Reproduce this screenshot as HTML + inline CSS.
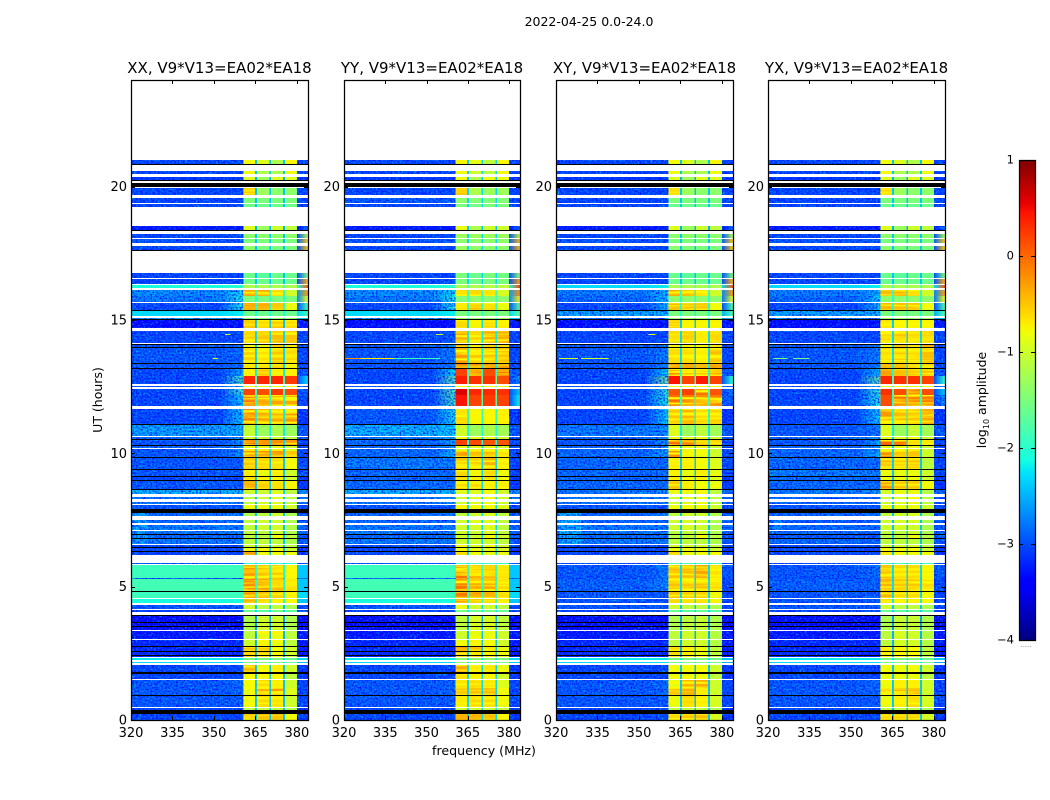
<!DOCTYPE html>
<html lang="en">
<head>
<meta charset="utf-8">
<title>2022-04-25 0.0-24.0 amplitude waterfall</title>
<style>
html,body{margin:0;padding:0;background:#fff;width:1050px;height:800px;overflow:hidden}
svg{display:block}
text{font-family:"DejaVu Sans","Liberation Sans",sans-serif;fill:#000}
</style>
</head>
<body>
<svg id="figure" width="1050" height="800" viewBox="0 0 1050 800" xmlns="http://www.w3.org/2000/svg">
<defs id="defs">
<filter id="grain-light" x="0" y="0" width="100%" height="100%" filterUnits="objectBoundingBox">
<feTurbulence type="fractalNoise" baseFrequency="0.55" numOctaves="2" seed="7"/>
<feColorMatrix type="matrix" values="0 0 0 0 0  0 0 0 0 0.68  0 0 0 0 1  2 0 0 0 -0.95"/>
</filter>
<filter id="grain-dark" x="0" y="0" width="100%" height="100%" filterUnits="objectBoundingBox">
<feTurbulence type="fractalNoise" baseFrequency="0.55" numOctaves="2" seed="23"/>
<feColorMatrix type="matrix" values="0 0 0 0 0  0 0 0 0 0  0 0 0 0 1  2.4 0 0 0 -1"/>
</filter>
<filter id="band-stripes" x="0" y="0" width="100%" height="100%" filterUnits="objectBoundingBox">
<feTurbulence type="fractalNoise" baseFrequency="0.012 0.38" numOctaves="2" seed="11"/>
<feColorMatrix type="matrix" values="0 0 0 0 1  0 0 0 0 0.95  0 0 0 0 0  3.4 0 0 0 -1.35"/>
</filter>
</defs>
<text x="589" y="26" font-size="12.5" text-anchor="middle">2022-04-25 0.0-24.0</text>
<text x="484" y="755" font-size="12.6" text-anchor="middle">frequency (MHz)</text>
<text transform="translate(102,400) rotate(-90)" font-size="12.5" text-anchor="middle">UT (hours)</text>
<text transform="translate(986,400) rotate(-90)" font-size="12.5" text-anchor="middle">log<tspan font-size="8" dy="3">10</tspan><tspan dy="-3"> amplitude</tspan></text>
<text x="1026" y="647" font-size="6" text-anchor="middle" style="fill:#666">......</text>
<g id="panels"></g>
<g id="colorbar"></g>
</svg>
<script>
// ---- data: frequency channels, scan ranges, per-polarisation log10 amplitude ----
const polarisations = ['XX', 'YY', 'XY', 'YX'];
const baselineLabel = ', V9*V13=EA02*EA18';
const xTickValues = [320, 335, 350, 365, 380];
const yTickValues = [0, 5, 10, 15, 20];
const colorbarTicks = [1, 0, -1, -2, -3, -4];
const channelEdges = [320, 352, 360.6, 364.8, 365.5, 370, 370.6, 375, 375.7, 380, 384];
// index of the level (bg,tr,b1,b2,b3,b4,gap,edge) used by each channel range
const channelLevel = [0, 1, 2, 6, 3, 6, 4, 6, 5, 7];
// scan index ranges: 640 scans span 24 hours
const scanBins = [
[0,6],[10,12],[13,24],[25,32],[32,40],[41,46],[48,55],[57,58.5],[60,62],[63.5,73],
[74,80],[81,89],[90,104],[108,110.5],[111.5,115.5],[117,121],[122,128.5],[129.5,141.5],[141.5,142.5],[142.5,155],
[156,157.5],[165,168],[169,172],[173,175],[176,181],[182.5,185.5],[186.5,189.5],[190.5,195.5],[197.5,200.5],[204,207.5],
[211,215],[216.5,218.5],[221,223],[226,230],[231,239],[240,243],[244,250],[251,262],[263,269],[269,271],
[272,274],[275,280],[281,283.5],[284.5,295],[296,311],[314,325],[325,331],[333,334.5],[336.5,344],[344,351],
[352,356],[357,372],[373,375.5],[377,389],[392,400],[401.5,402.5],[404.5,409],[410,417],[418.5,424],[424,430.5],
[432.5,435],[436,441.5],[442.5,447.5],[470.5,474.5],[477,481.5],[482.5,486.5],[490.5,494.5],[513,516],[517.5,522.5],[525,532],
[540,543.5],[546.5,549],[556.5,560.5]
];
const flaggedBins = [
[6,10],[24,25],[46,48],[64.5,65.5],[68,69],[73,74],[93,94],[97,98],[104,105],[128.5,129.5],
[168,169],[172,173],[181.5,182.5],[185.5,186.5],[207.5,211],[230,231],[239,240],[243,244],[250,251],[262,263],
[274,275],[280,281],[295,296],[351,352],[356,357],[372,373],[375.5,376.5],[400.5,401.5],[409,410],[469.5,470.5],
[489.5,490.5],[533,537.5],[539.5,540.5],[555.5,556.5]
];
// each row: bg, tr, b1, b2, b3, b4, gap, edge
const levelsXX = [
[-3,-3,-.5,-.45,-.45,-.8,-2.4,-3.1],[-3,-3,-1.1,-1.1,-1.1,-1.2,-2.4,-3.1],[-2.9,-2.9,-.85,-.6,-.65,-1,-2.4,-3],[-2.9,-2.8,-.85,-.35,-.2,-.9,-2.4,-3],[-2.9,-2.8,-.8,-.6,-.7,-1,-2.4,-3],[-3,-3,-.8,-.8,-.8,-1.1,-2.4,-3.1],[-3,-3,-.4,-.8,-.7,-1,-2.4,-3.1],[-2.3,-2.3,-1.5,-1.5,-1.5,-1.6,-2.2,-2.4],[-2.2,-2.2,-1.5,-1.5,-1.5,-1.6,-2.2,-2.3],[-3.2,-3.2,-.45,-.5,-.8,-1,-2.5,-3.3],
[-3.2,-3.2,-1,-.75,-.85,-1.1,-2.5,-3.3],[-3.3,-3.3,-1.1,-.85,-.85,-1.1,-2.5,-3.3],[-3.5,-3.5,-1.2,-1,-1,-1.2,-2.6,-3.5],[-3,-2.9,-1.6,-1.7,-1.6,-1.7,-2.3,-3],[-2.9,-2.9,-1,-1.1,-1.1,-1.2,-2.4,-3],[-2.1,-2.1,-.4,-.5,-.6,-.8,-2.1,-2.4],[-1.9,-1.9,-.25,-.4,-.45,-.7,-2.1,-2.3],[-1.85,-1.85,-.15,-.3,-.45,-.65,-2.1,-2.4],[-2.8,-2.8,-.4,-.5,-.5,-.8,-2.4,-2.8],[-1.9,-1.9,-.25,-.45,-.45,-.75,-2.1,-2.4],
[-2.9,-2.9,-2,-2,-2,-2,-2.4,-3],[-3,-3,-.3,-.8,-.8,-.8,-2.4,-3.1],[-3,-3,-.85,-.85,-.85,-1,-2.4,-3.1],[-3,-3,-1,-1,-1,-1.1,-2.4,-3],[-2.7,-2.7,-1.1,-1.1,-1.1,-1.2,-2.4,-2.9],[-2.8,-2.8,-1.1,-1.1,-.85,-1.1,-2.4,-2.9],[-2.7,-2.7,-1.1,-1.1,-1,-1.2,-2.4,-2.8],[-2.7,-2.7,-1.1,-1,-1,-1.2,-2.4,-2.8],[-2.8,-2.8,-1.1,-1,-1,-1.2,-2.4,-2.9],[-2.8,-2.7,-1.2,-1.1,-1,-1.2,-2.4,-2.9],
[-2.9,-2.9,-.85,-.85,-.85,-1,-2.4,-3],[-2.7,-2.6,-1.1,-1,-.9,-1.1,-2.4,-2.8],[-2.7,-2.6,-1.1,-1,-.9,-1.1,-2.4,-2.8],[-2.4,-2.4,-1,-1,-.9,-1.1,-2.3,-2.6],[-2.9,-2.9,-.3,-.55,-.65,-.75,-2.4,-3.1],[-3,-3,-.55,-.7,-.75,-1,-2.4,-3.1],[-2.9,-2.9,-.7,-.85,-.7,-1,-2.4,-3],[-2.9,-2.9,-.5,-.55,-.55,-.85,-2.4,-3],[-2.9,-2.6,-.2,-.2,-.25,-.5,-2.3,-3],[-2.9,-2.6,-.7,-.7,-.7,-.9,-2.3,-3],
[-2.8,-2.6,-.85,-.85,-.85,-1,-2.3,-3],[-2.9,-2.6,0,-.2,-.2,-.25,-2.3,-3],[-2.8,-2.6,-1,-1,-1,-1.1,-2.3,-2.9],[-2.5,-2.4,-1.05,-1.3,-1.2,-1.3,-2.2,-2.9],[-3,-2.3,-.15,-.3,-.35,-.25,-2.2,-3.1],[-3,-2.3,-.1,-.3,-.3,-.3,-2.1,-3],[-3,-1.9,.2,.15,.25,.15,-2,-2.9],[-2.9,-2.4,-.8,-.8,-.8,-.8,-2.2,-2.9],[-3,-1.8,.35,.35,.35,.25,-1.9,-2.3],[-3,-2.5,-.7,-.5,-.7,-.7,-2.2,-2.9],
[-2.9,-2.8,-.65,-.65,-.6,-.75,-2.3,-3],[-2.9,-2.8,-.55,-.65,-.5,-.6,-2.3,-3],[-2.9,-2.8,-.8,-.8,-.55,-.7,-2.3,-3],[-3,-3,-.55,-.5,-.45,-.5,-2.3,-3],[-3.4,-3.4,-.5,-.6,-.5,-.6,-2.4,-3.3],[-2.5,-2.5,-1.4,-1.4,-1.4,-1.4,-2.2,-2.4],[-2.3,-2.2,-1.6,-1.6,-1.6,-1.6,-2.1,-1.9],[-3,-2.1,-.3,-.35,-.5,-.85,-2.1,-1.9],[-2.7,-2.1,-1.5,-1.5,-1.5,-1.5,-2,-.8],[-2.6,-2.2,-.3,-.35,-.6,-1,-2,-.3],
[-2.1,-2,-1.2,-1.2,-1.2,-1.2,-1.8,.1],[-3,-3,-1.6,-1.6,-1.6,-1.6,-2.4,-.4],[-3,-3,-1.6,-1.7,-1.6,-1.6,-2.4,-1.5],[-3,-3,-1.4,-1.5,-1.5,-1.5,-2.4,-.5],[-2.9,-2.9,-1.5,-1.5,-1.5,-1.5,-2.4,-.5],[-3,-3,-1.4,-1.4,-1.4,-1.4,-2.4,-1.2],[-3.3,-3.3,-.9,-1.3,-1,-1.1,-2.5,-2.8],[-3,-3,-1.6,-1.6,-1.6,-1.6,-2.4,-3],[-3,-3,-1.5,-1.5,-1.5,-1.5,-2.4,-3],[-3,-3,-.5,-1.3,-1.4,-1.4,-2.4,-3],
[-3.1,-3.1,-.9,-1.3,-.9,-.9,-2.5,-3.1],[-3,-3,-.8,-1.2,-1.2,-.8,-2.4,-3],[-3,-3,-.8,-.9,-1.2,-.75,-2.4,-3]
];
const levelsYY = [
[-3,-3,-.4,-.4,-.45,-.75,-2.3,-3.1],[-3,-3,-1,-1,-1,-1.1,-2.3,-3.1],[-2.9,-2.9,-.7,-.6,-.6,-.85,-2.3,-3],[-2.9,-2.8,-.5,-.45,-.4,-.8,-2.3,-3],[-2.9,-2.8,-.65,-.6,-.65,-.9,-2.3,-3],[-3,-3,-.6,-.75,-.75,-1,-2.3,-3.1],[-3,-3,-.3,-.7,-.65,-.85,-2.3,-3.1],[-2.3,-2.3,-1.4,-1.4,-1.4,-1.5,-2.2,-2.4],[-2.2,-2.2,-1.4,-1.4,-1.4,-1.5,-2.2,-2.3],[-3.2,-3.2,-.3,-.45,-.7,-.85,-2.4,-3.3],
[-3.2,-3.2,-.85,-.75,-.8,-1,-2.4,-3.3],[-3.3,-3.3,-1,-.85,-.85,-1,-2.4,-3.3],[-3.5,-3.5,-1.1,-.95,-.95,-1.1,-2.5,-3.5],[-3,-2.9,-1.5,-1.6,-1.5,-1.6,-2.2,-3],[-2.9,-2.9,-.85,-1,-1,-1.1,-2.3,-3],[-2.1,-2.1,-.25,-.45,-.55,-.7,-2,-2.4],[-1.9,-1.9,-.1,-.35,-.4,-.6,-2,-2.3],[-1.85,-1.85,-.05,-.35,-.35,-.6,-2,-2.4],[-2.8,-2.8,-.25,-.45,-.45,-.7,-2.3,-2.8],[-1.9,-1.9,-.05,-.35,-.4,-.65,-2,-2.4],
[-2.9,-2.9,-1.9,-1.9,-1.9,-1.9,-2.3,-3],[-3,-3,-.6,-.8,-.85,-.85,-2.3,-3.1],[-3,-3,-.8,-.85,-.85,-.95,-2.3,-3.1],[-3,-3,-.85,-.95,-.85,-1,-2.3,-3],[-2.7,-2.7,-1,-1,-1,-1.1,-2.3,-2.9],[-2.8,-2.8,-1,-1,-.85,-1,-2.3,-2.9],[-2.7,-2.7,-1,-1,-.9,-1.1,-2.3,-2.8],[-2.7,-2.7,-1,-.95,-.9,-1.1,-2.3,-2.8],[-2.8,-2.8,-1,-.9,-.9,-1.1,-2.3,-2.9],[-2.8,-2.7,-1.1,-1,-.9,-1.1,-2.3,-2.9],
[-2.9,-2.9,-.75,-.8,-.8,-.9,-2.3,-3],[-2.7,-2.6,-1,-.9,-.8,-1,-2.3,-2.8],[-2.7,-2.6,-1,-.9,-.8,-1,-2.3,-2.8],[-2.4,-2.4,-.9,-.9,-.8,-1,-2.2,-2.6],[-2.8,-2.8,-.55,-.6,-.7,-.7,-2.3,-3.1],[-2.8,-2.8,-.6,-.7,-.6,-.85,-2.3,-3.1],[-2.8,-2.8,-.6,-.75,-.6,-.85,-2.3,-3],[-2.7,-2.7,-.5,-.55,-.4,-.7,-2.3,-3],[-2.8,-2.4,-.2,-.45,-.45,-.6,-2.2,-3],[-2.8,-2.5,-.85,-.75,-.7,-.85,-2.2,-3],
[-2.8,-2.5,-.85,-.85,-.85,-.95,-2.2,-3],[-2.8,-2.5,.2,.15,.1,.1,-2.1,-3],[-2.7,-2.5,-.85,-.85,-.85,-1,-2.2,-2.9],[-2.4,-2.3,-1,-1.3,-1.2,-1.25,-2.1,-2.9],[-2.9,-2.2,-.6,-.75,-.75,-.7,-2,-3.1],[-3,-1.8,.45,.2,.25,.2,-1.8,-2.2],[-3,-1.7,.6,.35,.35,.3,-1.7,-2.4],[-2.9,-2.2,-.8,-.8,-.8,-.8,-2,-2.8],[-3,-1.7,.4,.3,.3,.15,-1.7,-2.6],[-3,-2.2,.2,-.05,.15,-.1,-2,-2.9],
[-2.9,-2.7,-.15,-.25,-.15,-.25,-2.2,-3],[-2.9,-2.7,-.25,-.5,-.45,-.45,-2.2,-3],[-2.9,-2.7,-.35,-.7,-.5,-.6,-2.2,-3],[-3,-2.9,-.35,-.55,-.35,-.35,-2.2,-3],[-3.4,-3.4,-.6,-.75,-.6,-.7,-2.3,-3.3],[-2.5,-2.5,-1.3,-1.3,-1.3,-1.3,-2.1,-2.4],[-2.3,-2.2,-1.5,-1.5,-1.5,-1.5,-2,-1.7],[-3,-2.1,-.65,-.45,-.6,-.85,-2,-1.7],[-2.7,-2.1,-1.45,-1.4,-1.4,-1.4,-1.9,-.7],[-2.6,-2.2,-.65,-.6,-.65,-.95,-1.9,-.2],
[-2.1,-2,-1.2,-1.2,-1.15,-1.1,-1.8,.2],[-3,-2.9,-1.5,-1.55,-1.5,-1.5,-2.3,-.3],[-3,-3,-1.5,-1.6,-1.5,-1.55,-2.3,-1.4],[-3,-3,-1.3,-1.4,-1.4,-1.4,-2.3,-.4],[-2.9,-2.9,-1.4,-1.4,-1.4,-1.4,-2.3,-.4],[-3,-3,-1.3,-1.3,-1.3,-1.3,-2.3,-1.1],[-3.3,-3.3,-.85,-1.2,-1,-1,-2.4,-2.8],[-3,-3,-1.5,-1.55,-1.5,-1.5,-2.3,-3],[-2.9,-2.9,-1.4,-1.45,-1.45,-1.45,-2.3,-3],[-3,-3,-.5,-1.2,-1.3,-1.3,-2.3,-3],
[-3.1,-3.1,-.85,-1.2,-.85,-.85,-2.4,-3.1],[-3,-3,-.8,-1,-1.1,-.8,-2.3,-3],[-3,-3,-.75,-.85,-1.1,-.75,-2.3,-3]
];
const levelsXY = [
[-3,-3,-.6,-.5,-.45,-.95,-2.4,-3.1],[-3,-3,-1.1,-1.1,-1.1,-1.2,-2.4,-3.1],[-2.9,-2.9,-.85,-.6,-.7,-.95,-2.4,-3],[-2.9,-2.8,-.45,-.35,-.7,-1,-2.4,-3],[-2.9,-2.8,-.85,-.4,-.35,-1,-2.4,-3],[-3,-3,-.85,-.85,-.85,-1.1,-2.4,-3.1],[-3,-3,-.8,-.85,-.8,-1,-2.4,-3.1],[-2.3,-2.3,-1.5,-1.5,-1.5,-1.6,-2.2,-2.5],[-2.2,-2.2,-1.5,-1.5,-1.5,-1.6,-2.2,-2.4],[-3.2,-3.2,-.6,-.7,-.85,-1.1,-2.5,-3.3],
[-3.2,-3.2,-1.1,-1,-1,-1.15,-2.5,-3.3],[-3.3,-3.3,-1.1,-1,-1,-1.15,-2.5,-3.3],[-3.5,-3.5,-1.2,-1.1,-1.05,-1.2,-2.6,-3.5],[-3,-2.9,-1.6,-1.7,-1.6,-1.7,-2.3,-3],[-2.9,-2.9,-1,-1.1,-1.1,-1.2,-2.4,-3],[-2.9,-2.9,-.6,-.65,-.65,-.75,-2.2,-3],[-2.9,-2.9,-.45,-.55,-.55,-.8,-2.3,-3],[-2.85,-2.6,-.45,-.5,-.45,-.6,-2.3,-3],[-3,-2.9,-.6,-.7,-.6,-.8,-2.4,-3],[-2.9,-2.7,-.45,-.45,-.3,-.65,-2.3,-2.9],
[-3,-3,-1.8,-1.8,-1.8,-1.9,-2.4,-3],[-3,-3,-.5,-.85,-.85,-.85,-2.4,-3.1],[-3,-3,-.85,-.85,-.85,-1,-2.4,-3.1],[-3,-3,-1,-1,-1,-1.1,-2.4,-3],[-2.7,-2.7,-1.1,-1.1,-1.1,-1.2,-2.4,-2.9],[-2.8,-2.8,-1.1,-1.1,-.85,-1.1,-2.4,-2.9],[-2.7,-2.7,-1.1,-1.1,-1,-1.2,-2.4,-2.8],[-2.7,-2.7,-1,-.95,-1,-1.2,-2.4,-2.8],[-2.8,-2.8,-1,-.95,-1,-1.2,-2.4,-2.9],[-2.8,-2.7,-1.1,-1,-1,-1.2,-2.4,-2.9],
[-2.9,-2.9,-.85,-.85,-.85,-1,-2.4,-3],[-2.7,-2.7,-1,-.9,-.85,-1.1,-2.4,-2.8],[-2.7,-2.7,-1,-.9,-.85,-1.1,-2.4,-2.8],[-2.7,-2.6,-.85,-.85,-.85,-1.1,-2.3,-2.8],[-2.8,-2.8,-.5,-.7,-.8,-.85,-2.4,-3.1],[-2.8,-2.8,-.7,-.8,-.7,-.9,-2.4,-3.1],[-2.8,-2.8,-.7,-.85,-.7,-.85,-2.4,-3],[-2.8,-2.8,-.7,-.7,-.8,-.9,-2.4,-3],[-2.8,-2.5,-.2,-.75,-.85,-1,-2.3,-3],[-2.8,-2.6,-.7,-.85,-.85,-1,-2.3,-3],
[-2.8,-2.6,-.85,-.85,-.85,-1,-2.3,-3],[-2.9,-2.6,0,-.1,-.45,-.5,-2.2,-3],[-2.8,-2.6,-.85,-.9,-.85,-1,-2.3,-2.9],[-2.7,-2.6,-.9,-1.3,-1.1,-1.25,-2.2,-2.9],[-3,-2.3,-.5,-.4,-.6,-.55,-2.1,-3.1],[-3,-2.1,0,-.1,-.2,-.1,-2,-2.9],[-3,-2,.1,.2,-.05,.1,-1.9,-2.7],[-2.9,-2.4,-.8,-.8,-.8,-.8,-2.1,-2.8],[-3,-1.6,.45,.2,.4,.2,-1.9,-2],[-3,-2.3,-.1,-.3,-.3,-.2,-2.1,-2.9],
[-2.9,-2.7,-.3,-.35,-.45,-.3,-2.2,-3],[-2.9,-2.7,-.6,-.6,-.7,-.4,-2.3,-3],[-2.9,-2.7,-.75,-.85,-.75,-.55,-2.3,-3],[-3,-3,-.6,-.55,-.7,-.6,-2.3,-3],[-3.4,-3.4,-.55,-.75,-.75,-.75,-2.4,-3.3],[-2.7,-2.6,-1.3,-1.3,-1.3,-1.3,-2.2,-2.4],[-2.5,-2.4,-1.5,-1.5,-1.5,-1.5,-2.1,-1.8],[-3,-2.4,-.4,-.5,-.5,-.8,-2.1,-1.8],[-2.8,-2.3,-1.4,-1.4,-1.4,-1.4,-2,-.8],[-2.7,-2.4,-.35,-.4,-.6,-1,-2,-.3],
[-2.3,-2.2,-1.2,-1.2,-1.2,-1.2,-1.8,.1],[-3,-3,-1.6,-1.6,-1.6,-1.6,-2.4,-.4],[-3,-3,-1.6,-1.7,-1.6,-1.6,-2.4,-1.5],[-3,-3,-1.4,-1.5,-1.5,-1.5,-2.4,-.5],[-2.9,-2.9,-1.5,-1.5,-1.5,-1.5,-2.4,-.5],[-3,-3,-1.4,-1.4,-1.4,-1.4,-2.4,-1.2],[-3.3,-3.3,-.9,-1.3,-1,-1.1,-2.5,-2.8],[-3,-3,-1.6,-1.6,-1.6,-1.6,-2.4,-3],[-3,-3,-1.5,-1.5,-1.5,-1.5,-2.4,-3],[-3,-3,-.6,-1.3,-1.4,-1.4,-2.4,-3],
[-3.1,-3.1,-.9,-1.3,-.9,-.9,-2.5,-3.1],[-3,-3,-.8,-1.2,-1.2,-.8,-2.4,-3],[-3,-3,-.8,-.9,-1.2,-.75,-2.4,-3]
];
const levelsYX = [
[-3,-3,-.6,-.55,-.5,-.95,-2.4,-3.1],[-3,-3,-1.1,-1.1,-1.1,-1.2,-2.4,-3.1],[-2.9,-2.9,-.85,-.7,-.6,-.95,-2.4,-3],[-2.9,-2.8,-.6,-.45,-.45,-1,-2.4,-3],[-2.9,-2.8,-.85,-.7,-.7,-1,-2.4,-3],[-3,-3,-.85,-.85,-.85,-1.1,-2.4,-3.1],[-3,-3,-.8,-.85,-.8,-1,-2.4,-3.1],[-2.3,-2.3,-1.5,-1.5,-1.5,-1.6,-2.2,-2.5],[-2.2,-2.2,-1.5,-1.5,-1.5,-1.6,-2.2,-2.4],[-3.2,-3.2,-.6,-.7,-.8,-1.1,-2.5,-3.3],
[-3.2,-3.2,-1.1,-.95,-.95,-1.15,-2.5,-3.3],[-3.3,-3.3,-1.1,-.95,-1,-1.15,-2.5,-3.3],[-3.5,-3.5,-1.2,-1.05,-1.05,-1.2,-2.6,-3.5],[-3,-2.9,-1.6,-1.7,-1.6,-1.7,-2.3,-3],[-2.9,-2.9,-1,-1.1,-1.1,-1.2,-2.4,-3],[-2.9,-2.9,-.45,-.7,-.7,-.8,-2.2,-3],[-2.9,-2.9,-.4,-.6,-.6,-.8,-2.3,-3],[-2.85,-2.85,-.4,-.5,-.5,-.6,-2.3,-3],[-3,-2.9,-.6,-.7,-.65,-.8,-2.4,-3],[-2.9,-2.8,-.45,-.6,-.6,-.75,-2.3,-2.9],
[-3,-3,-1.8,-1.8,-1.8,-1.9,-2.4,-3],[-3,-3,-.6,-.85,-.85,-.85,-2.4,-3.1],[-3,-3,-.85,-.85,-.85,-1,-2.4,-3.1],[-3,-3,-1,-1,-1,-1.1,-2.4,-3],[-2.8,-2.8,-1.1,-1.1,-1.1,-1.2,-2.4,-2.9],[-2.9,-2.9,-1.1,-1.1,-.85,-1.1,-2.4,-2.9],[-2.8,-2.8,-1.1,-1.1,-1,-1.2,-2.4,-2.9],[-2.8,-2.8,-1,-.95,-1,-1.2,-2.4,-2.9],[-2.9,-2.8,-1,-.95,-.95,-1.2,-2.4,-2.9],[-2.8,-2.8,-1.1,-1,-.95,-1.2,-2.4,-2.9],
[-2.9,-2.9,-.85,-.85,-.85,-1,-2.4,-3],[-2.8,-2.8,-1,-.9,-.85,-1.1,-2.4,-2.9],[-2.8,-2.8,-1,-.9,-.85,-1.1,-2.4,-2.9],[-2.7,-2.6,-.95,-.85,-.85,-1.15,-2.3,-2.8],[-2.8,-2.8,-.2,-.45,-.5,-.8,-2.4,-3.1],[-2.8,-2.8,-.85,-.85,-.85,-1,-2.4,-3.1],[-2.7,-2.7,-.8,-.85,-.85,-1,-2.4,-3],[-2.8,-2.8,-.45,-.55,-.5,-1.1,-2.4,-3],[-2.8,-2.4,-.2,-.45,-.4,-1,-2.3,-3],[-2.8,-2.6,-.7,-.85,-.7,-1,-2.3,-3],
[-2.8,-2.6,-.85,-.85,-.85,-1,-2.3,-3],[-2.9,-2.5,0,-.1,-.6,-.65,-2.2,-3],[-2.8,-2.6,-.85,-.9,-.85,-1,-2.3,-2.9],[-2.9,-2.7,-.9,-1.3,-1.05,-1.25,-2.2,-2.9],[-3,-2.3,-.25,-.45,-.5,-.35,-2.1,-3.1],[-3,-2.1,.15,-.05,-.15,-.1,-2,-2.6],[-3,-2,.3,.15,-.1,.15,-1.9,-2.4],[-2.9,-2.4,-.8,-.8,-.8,-.8,-2.1,-2.8],[-3,-1.7,.35,.3,.3,.2,-1.9,-2],[-3,-2.4,-.3,-.45,-.5,-.4,-2.1,-2.9],
[-2.9,-2.7,-.45,-.45,-.55,-.5,-2.2,-3],[-2.9,-2.7,-.6,-.5,-.6,-.45,-2.3,-3],[-2.9,-2.7,-.8,-.5,-.65,-.35,-2.3,-3],[-3,-3,-.6,-.5,-.6,-.6,-2.3,-3],[-3.4,-3.4,-.6,-.75,-.75,-.75,-2.4,-3.3],[-2.7,-2.6,-1.3,-1.3,-1.3,-1.3,-2.2,-2.4],[-2.5,-2.4,-1.5,-1.5,-1.5,-1.5,-2.1,-1.8],[-3,-2.4,-.4,-.45,-.5,-.85,-2.1,-1.8],[-2.8,-2.3,-1.4,-1.4,-1.4,-1.4,-2,-.8],[-2.7,-2.4,-.4,-.4,-.6,-1,-2,-.3],
[-2.3,-2.2,-1.2,-1.2,-1.2,-1.2,-1.8,.1],[-3,-3,-1.6,-1.6,-1.6,-1.6,-2.4,-.4],[-3,-3,-1.6,-1.7,-1.6,-1.6,-2.4,-1.5],[-3,-3,-1.4,-1.5,-1.5,-1.5,-2.4,-.5],[-2.9,-2.9,-1.5,-1.5,-1.5,-1.5,-2.4,-.5],[-3,-3,-1.4,-1.4,-1.4,-1.4,-2.4,-1.2],[-3.3,-3.3,-.9,-1.3,-1,-1.1,-2.5,-2.8],[-3,-3,-1.6,-1.6,-1.6,-1.6,-2.4,-3],[-3,-3,-1.5,-1.5,-1.5,-1.5,-2.4,-3],[-3,-3,-.6,-1.3,-1.4,-1.4,-2.4,-3],
[-3.1,-3.1,-.9,-1.3,-.9,-.9,-2.5,-3.1],[-3,-3,-.8,-1.2,-1.2,-.8,-2.4,-3],[-3,-3,-.8,-.9,-1.2,-.75,-2.4,-3]
];
const panelLevels = [levelsXX, levelsYY, levelsXY, levelsYX];
// narrowband interference: [fromMHz, toMHz, scan, level]
const streaksXX = [[354,356,386,-1],[349.5,351.5,362,-.9]];
const streaksYY = [[320,326,361.5,-.2],[326,338,361.5,-.7],[338,355,361.5,-1.9],[353.5,356,386,-1]];
const streaksXY = [[321,328,361.5,-1],[329,339,361.5,-1.05],[353.5,356,386,-.8]];
const streaksYX = [[322,327,361.5,-1.5],[329,335,361.5,-1.6]];
const panelStreaks = [streaksXX, streaksYY, streaksXY, streaksYX];
// low-frequency patches near 7 UT: [fromMHz, toMHz, fromScan, toScan, level]
const patchesXX = [[321,326,176,207,-2.5]];
const patchesYY = [];
const patchesXY = [[321,329,176,207,-2.45]];
const patchesYX = [[322,325,190,200,-2.6]];
const panelPatches = [patchesXX, patchesYY, patchesXY, patchesYX];

// ---- layout and scales ----
const NS = 'http://www.w3.org/2000/svg';
const panelLeft = [131, 344, 556, 768];
const panelWidth = [177, 176, 177, 177];
const plotTop = 80, plotBottom = 720, scansPerDay = 640, freqMin = 320, freqMax = 384;
function xScale(left, w, mhz) { return left + (mhz - freqMin) / (freqMax - freqMin) * w; }
function yScan(scan) { return plotBottom - scan / scansPerDay * (plotBottom - plotTop); }
function ySnap(scan) { return Math.round(yScan(scan)); }
function yHours(h) { return yScan(h / 24 * scansPerDay); }
const cbTop = 160, cbBottom = 640, cbLeft = 1019, cbRight = 1035;
function yColor(v) { return cbBottom - (v + 4) / 5 * (cbBottom - cbTop); }

function ramp(f, pts) {
  for (let i = 1; i < pts.length; i++) {
    if (f <= pts[i][0]) {
      const t = (f - pts[i - 1][0]) / (pts[i][0] - pts[i - 1][0]);
      return pts[i - 1][1] + t * (pts[i][1] - pts[i - 1][1]);
    }
  }
  return pts[pts.length - 1][1];
}
const jetR = [[0, 0], [.35, 0], [.66, 1], [.89, 1], [1, .5]];
const jetG = [[0, 0], [.125, 0], [.375, 1], [.64, 1], [.91, 0], [1, 0]];
const jetB = [[0, .5], [.11, 1], [.34, 1], [.65, 0], [1, 0]];
function jet(level) {
  const f = Math.max(0, Math.min(1, (level + 4) / 5));
  return 'rgb(' + Math.round(ramp(f, jetR) * 255) + ',' + Math.round(ramp(f, jetG) * 255) + ',' + Math.round(ramp(f, jetB) * 255) + ')';
}
function make(tag, parent) {
  const el = document.createElementNS(NS, tag);
  parent.appendChild(el);
  return el;
}
function rect(el, x, y, w, h, fill) {
  el.setAttribute('x', x);
  el.setAttribute('y', y);
  el.setAttribute('width', w);
  el.setAttribute('height', h);
  el.setAttribute('fill', fill);
  el.setAttribute('shape-rendering', 'crispEdges');
}
function clipBox(clip, x, y, w, h) {
  const c = make('rect', clip);
  c.setAttribute('x', x);
  c.setAttribute('y', y);
  c.setAttribute('width', w);
  c.setAttribute('height', h);
}
function tickLine(el, x1, y1, x2, y2) {
  el.setAttribute('x1', x1);
  el.setAttribute('y1', y1);
  el.setAttribute('x2', x2);
  el.setAttribute('y2', y2);
  el.setAttribute('stroke', '#000');
  el.setAttribute('stroke-width', '1');
  el.setAttribute('shape-rendering', 'crispEdges');
}
function label(el, x, y, anchor, str) {
  el.setAttribute('x', x);
  el.setAttribute('y', y);
  el.setAttribute('text-anchor', anchor);
  el.setAttribute('font-size', '13');
  el.textContent = str;
}
// horizontal fade between two levels inside one frequency cell
const defsEl = document.getElementById('defs');
let fadeCount = 0;
function fade(fromLevel, toLevel) {
  const id = 'fade-' + (fadeCount++);
  const lg = make('linearGradient', defsEl);
  lg.setAttribute('id', id);
  const s0 = make('stop', lg);
  s0.setAttribute('offset', '0');
  s0.setAttribute('stop-color', jet(fromLevel));
  const s1 = make('stop', lg);
  s1.setAttribute('offset', '1');
  s1.setAttribute('stop-color', jet(toLevel));
  return 'url(#' + id + ')';
}

// ---- panels ----
const panelsRoot = document.getElementById('panels');
polarisations.forEach(function (pol, p) {
  const left = panelLeft[p];
  const plotW = panelWidth[p];
  const g = make('g', panelsRoot);
  
  

  const rows = panelLevels[p];
  const bgRight = xScale(left, plotW, channelEdges[2]);
  const edgeLeft = xScale(left, plotW, channelEdges[9]);
  const plotRight = xScale(left, plotW, freqMax);

  // clip shapes: all observed background, noisy background/edge, striped sub-bands
  const rowClip = make('clipPath', g);
  rowClip.setAttribute('id', 'row-clip-' + p);
  const grainClip = make('clipPath', g);
  grainClip.setAttribute('id', 'grain-clip-' + p);
  const stripeClip = make('clipPath', g);
  stripeClip.setAttribute('id', 'stripe-clip-' + p);

  scanBins.forEach(function (bin, r) {
    const row = rows[r];
    const top = ySnap(bin[1]);
    const h = ySnap(bin[0]) - ySnap(bin[1]);
    channelLevel.forEach(function (levelIndex, c) {
      const x0 = xScale(left, plotW, channelEdges[c]);
      const x1 = xScale(left, plotW, channelEdges[c + 1]);
      const cell = make('rect', g);
      let fill = jet(row[levelIndex]);
      if (levelIndex === 1 && row[1] !== row[0]) {
        fill = fade(row[0], row[1]);
      }
      if (levelIndex === 7 && row[7] > row[0] + .2) {
        fill = fade(row[0], row[7]);
      }
      rect(cell, x0, top, x1 - x0, h, fill);
      
      
      if (levelIndex >= 2 && levelIndex <= 5 && row[levelIndex] > -.9 && row[levelIndex] < .05) {
        clipBox(stripeClip, x0, top, x1 - x0, h);
      }
    });
    clipBox(rowClip, left, top, bgRight - left, h);
    if (row[0] < -2.35) {
      clipBox(grainClip, left, top, bgRight - left, h);
    }
    if (row[7] < -2.5) {
      clipBox(grainClip, edgeLeft, top, plotRight - edgeLeft, h);
    }
  });

  const patchGroup = make('g', g);
  patchGroup.setAttribute('clip-path', 'url(#row-clip-' + p + ')');
  
  
  panelPatches[p].forEach(function (s) {
    const pt = make('rect', patchGroup);
    rect(pt, xScale(left, plotW, s[0]), ySnap(s[3]), xScale(left, plotW, s[1]) - xScale(left, plotW, s[0]), ySnap(s[2]) - ySnap(s[3]), jet(s[4]));
    
    
  });

  // receiver-noise texture over quiet channels
  ['grain-light', 'grain-dark'].forEach(function (filterId) {
    const grainGroup = make('g', g);
    grainGroup.setAttribute('clip-path', 'url(#grain-clip-' + p + ')');
    
    
    const grainRect = make('rect', grainGroup);
    grainRect.setAttribute('x', left);
    grainRect.setAttribute('y', plotTop);
    grainRect.setAttribute('width', plotW);
    grainRect.setAttribute('height', plotBottom - plotTop);
    grainRect.setAttribute('filter', 'url(#' + filterId + ')');
  });

  // fine horizontal structure inside the bright sub-bands
  const stripeGroup = make('g', g);
  stripeGroup.setAttribute('clip-path', 'url(#stripe-clip-' + p + ')');
  
  
  const stripeRect = make('rect', stripeGroup);
  stripeRect.setAttribute('x', left);
  stripeRect.setAttribute('y', plotTop);
  stripeRect.setAttribute('width', plotW);
  stripeRect.setAttribute('height', plotBottom - plotTop);
  stripeRect.setAttribute('filter', 'url(#band-stripes)');

  panelStreaks[p].forEach(function (s) {
    const st = make('rect', g);
    rect(st, xScale(left, plotW, s[0]), ySnap(s[2] + .5), xScale(left, plotW, s[1]) - xScale(left, plotW, s[0]), 1, jet(s[3]));
    
    
  });

  flaggedBins.forEach(function (bin) {
    const fl = make('rect', g);
    rect(fl, left, ySnap(bin[1]), plotW, Math.max(1, ySnap(bin[0]) - ySnap(bin[1])), '#000');
    
    
  });

  const frame = make('rect', g);
  frame.setAttribute('x', left + .5);
  frame.setAttribute('y', plotTop + .5);
  frame.setAttribute('width', plotW);
  frame.setAttribute('height', plotBottom - plotTop);
  frame.setAttribute('fill', 'none');
  frame.setAttribute('stroke', '#000');
  frame.setAttribute('stroke-width', '1.25');
  
  

  xTickValues.forEach(function (v) {
    const x = Math.round(xScale(left, plotW, v)) + .5;
    const tb = make('line', g);
    tickLine(tb, x, plotBottom, x, plotBottom - 4);
    
    
    const tt = make('line', g);
    tickLine(tt, x, plotTop, x, plotTop + 4);
    
    
    const tl = make('text', g);
    label(tl, xScale(left, plotW, v), plotBottom + 17, 'middle', String(v));
    
    
  });
  yTickValues.forEach(function (v) {
    const y = Math.round(yHours(v)) + .5;
    const tb = make('line', g);
    tickLine(tb, left, y, left + 4, y);
    
    
    const tr = make('line', g);
    tickLine(tr, left + plotW, y, left + plotW - 4, y);
    
    
    const tl = make('text', g);
    label(tl, left - 4, yHours(v) + 4.5, 'end', String(v));
    
    
  });

  const title = make('text', g);
  title.setAttribute('x', left + plotW / 2);
  title.setAttribute('y', 73);
  title.setAttribute('text-anchor', 'middle');
  title.setAttribute('font-size', '15');
  title.textContent = pol + baselineLabel;
  
  
});

// ---- colorbar ----
const cb = document.getElementById('colorbar');
for (let y = cbTop; y < cbBottom; y++) {
  const seg = make('rect', cb);
  rect(seg, cbLeft, y, cbRight - cbLeft, 1, jet(1 - (y - cbTop + .5) / (cbBottom - cbTop) * 5));
  
  
}
const cbFrame = make('rect', cb);
cbFrame.setAttribute('x', cbLeft + .5);
cbFrame.setAttribute('y', cbTop + .5);
cbFrame.setAttribute('width', cbRight - cbLeft);
cbFrame.setAttribute('height', cbBottom - cbTop);
cbFrame.setAttribute('fill', 'none');
cbFrame.setAttribute('stroke', '#000');
cbFrame.setAttribute('stroke-width', '1.25');


colorbarTicks.forEach(function (v) {
  const y = Math.round(yColor(v)) + .5;
  const a = make('line', cb);
  tickLine(a, cbLeft, y, cbLeft + 4, y);
  
  
  const b = make('line', cb);
  tickLine(b, cbRight, y, cbRight - 4, y);
  
  
  const t = make('text', cb);
  label(t, cbLeft - 5, yColor(v) + 3.5, 'end', String(v).replace('-', '\u2212'));
  t.setAttribute('font-size', '11.5');
  
  
});
</script>
</body>
</html>
